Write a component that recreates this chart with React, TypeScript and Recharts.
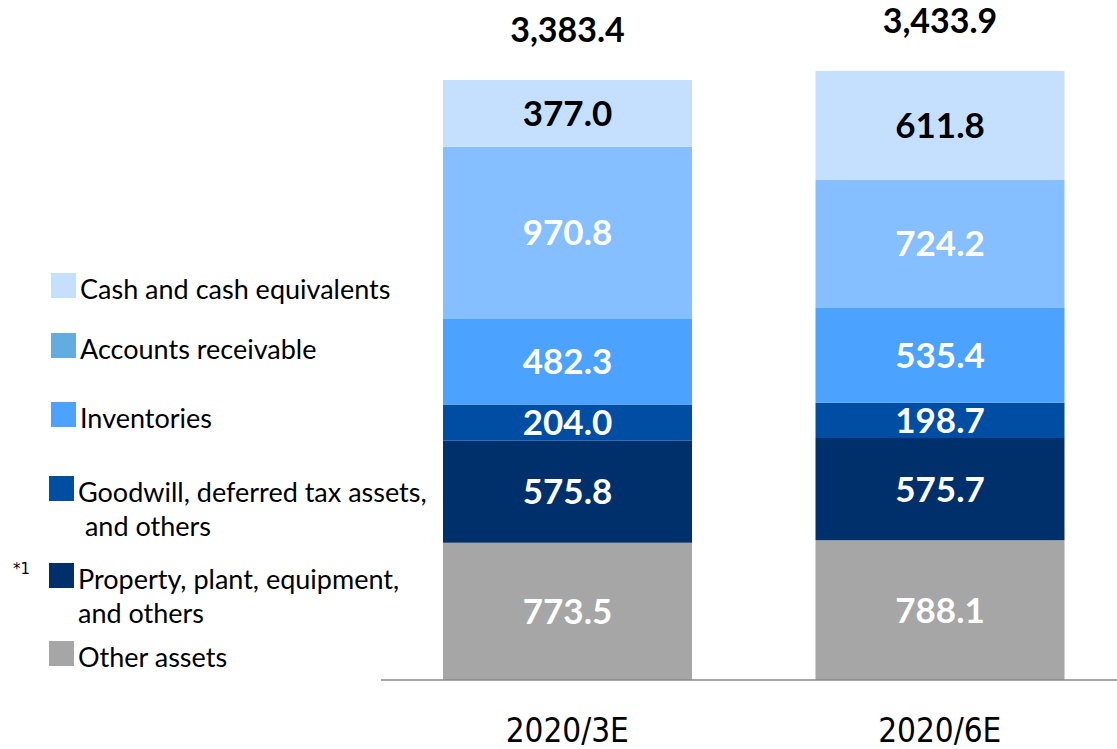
import React from 'react'
import { BarChart, Bar, XAxis, YAxis, LabelList } from 'recharts'

// Periods shown on the x axis
const periods = ['2020/3E', '2020/6E']

// Series values, bottom to top of each stack (billions of yen)
const otherAssets = [773.5, 788.1]
const propertyPlant = [575.8, 575.7]
const goodwill = [204.0, 198.7]
const inventories = [482.3, 535.4]
const receivables = [970.8, 724.2]
const cash = [377.0, 611.8]

const series = [
  { key: 'other', name: 'Other assets', values: otherAssets, color: '#a6a6a6', legend: '#a6a6a6', text: '#fff' },
  { key: 'ppe', name: 'Property, plant, equipment,\nand others', values: propertyPlant, color: '#00306b', legend: '#00306b', text: '#fff' },
  { key: 'goodwill', name: 'Goodwill, deferred tax assets,\n and others', values: goodwill, color: '#004ea3', legend: '#004ea3', text: '#fff' },
  { key: 'inv', name: 'Inventories', values: inventories, color: '#4ba3ff', legend: '#4ba3ff', text: '#fff' },
  { key: 'ar', name: 'Accounts receivable', values: receivables, color: '#85bfff', legend: '#62ade0', text: '#fff' },
  { key: 'cash', name: 'Cash and cash equivalents', values: cash, color: '#c5e0ff', legend: '#c5e0ff', text: '#000' },
]

const data = periods.map((p, i) => {
  const row: any = { period: p }
  series.forEach(s => { row[s.key] = s.values[i] })
  row.total = series.reduce((sum, s) => sum + s.values[i], 0)
  return row
})

const LABEL_FONT = "'Source Sans Pro', Lato, 'Noto Sans', sans-serif"

// legend rows: position of each colour square
const legendRows = [
  { idx: 5, top: 273, left: 51 },
  { idx: 4, top: 333, left: 51 },
  { idx: 3, top: 402, left: 51 },
  { idx: 2, top: 476, left: 49 },
  { idx: 1, top: 563, left: 49 },
  { idx: 0, top: 641, left: 49 },
]

const fmt = (v: number) =>
  v.toLocaleString('en-US', { minimumFractionDigits: 1, maximumFractionDigits: 1 })

// total of the stack, drawn above the top segment
const TotalLabel = (props: any) => {
  const { x, y, width, index } = props
  return (
    <text
      x={x + width / 2}
      y={y - 51}
      textAnchor="middle"
      dominantBaseline="central"
      fontFamily={LABEL_FONT}
      fontWeight={700}
      fontSize={34}
      fill="#000"
    >
      {fmt(data[index].total)}
    </text>
  )
}

export default function App() {
  return (
    <div style={{ position: 'absolute', left: 0, top: 0, width: 1117, height: 749, overflow: 'hidden', background: '#fff' }}>
      <BarChart
        width={1126}
        height={749}
        data={data}
        margin={{ top: 6, right: 0, bottom: 0, left: 381 }}
        barSize={249}
      >
        <XAxis
          dataKey="period"
          height={69}
          axisLine={{ stroke: '#888', strokeWidth: 1.5 }}
          tickLine={false}
          tick={{ fontSize: 33, fill: '#000', fontFamily: "'DejaVu Sans Condensed', 'Liberation Sans Narrow', sans-serif" }}
          tickMargin={33}
        />
        <YAxis hide domain={[0, 3800]} />
        {series.map((s, si) => (
          <Bar key={s.key} dataKey={s.key} stackId="a" fill={s.color} isAnimationActive={false}>
            <LabelList
              dataKey={s.key}
              position="center"
              formatter={(v: any) => fmt(Number(v))}
              fill={s.text}
              fontSize={35}
              fontWeight={700}
              fontFamily={LABEL_FONT}
            />
            {si === series.length - 1 && <LabelList dataKey="total" content={<TotalLabel />} />}
          </Bar>
        ))}
      </BarChart>
      <div style={{ position: 'absolute', left: 13, top: 560, fontFamily: 'DejaVu Sans', fontSize: 15 }}>*1</div>
      {legendRows.map(r => {
        const s = series[r.idx]
        return (
          <div key={s.key} style={{ position: 'absolute', left: r.left, top: r.top }}>
            <div style={{ position: 'absolute', left: 0, top: 0, width: 25, height: 25, background: s.legend }} />
            <div
              style={{
                position: 'absolute',
                left: 29,
                top: -1,
                whiteSpace: 'pre',
                fontFamily: LABEL_FONT,
                fontSize: 27,
                lineHeight: '34px',
                color: '#000',
              }}
            >
              {s.name}
            </div>
          </div>
        )
      })}
    </div>
  )
}
